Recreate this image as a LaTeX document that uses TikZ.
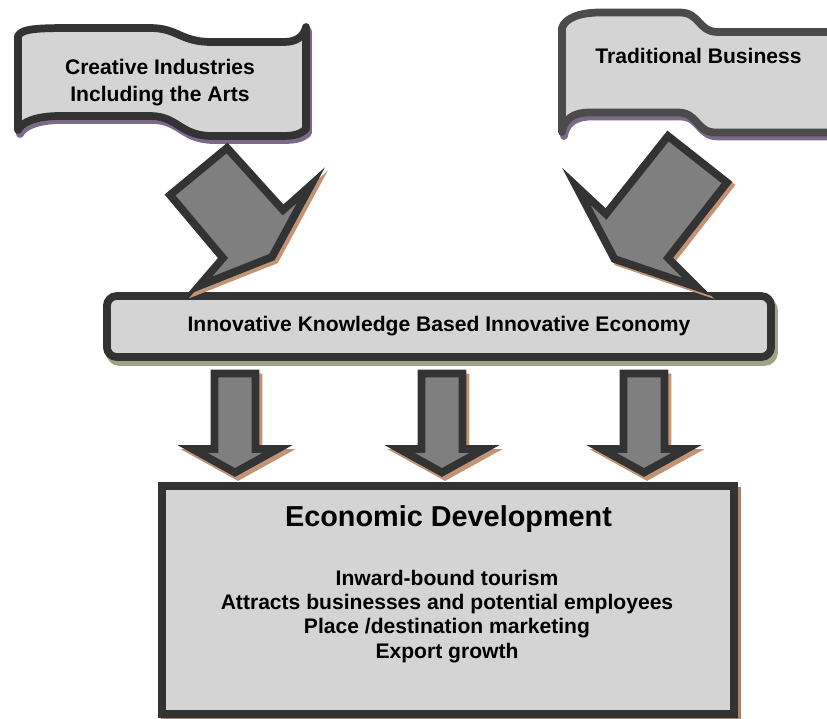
\documentclass[tikz,border=0pt]{standalone}
\usepackage{fontspec}
\setmainfont{Liberation Sans}
\usetikzlibrary{shadows}

\definecolor{lightbox}{HTML}{D4D4D4}
\definecolor{arrowgray}{HTML}{7F7F7F}
\definecolor{edgedark}{HTML}{333333}
\definecolor{edgemid}{HTML}{4B4B4B}
\definecolor{flagshade}{HTML}{7B6A8C}
\definecolor{arrowshade}{HTML}{C39375}
\definecolor{oliveshade}{HTML}{9DA385}
\definecolor{boxshade}{HTML}{A58272}

\begin{document}
\begin{tikzpicture}[x=0.025cm,y=-0.025cm,
  every node/.style={font=\fontsize{15}{19}\selectfont\bfseries,align=center},
  flag/.style={fill=lightbox,line width=5.5pt,line join=round},
  flagshadow/.style={draw=flagshade,line width=5.5pt,line join=round},
  blockarrow/.style={fill=arrowgray,draw=edgedark,line width=5.5pt,line join=miter},
  arrowshadow/.style={fill=arrowshade,draw=arrowshade,line width=5.5pt,line join=miter}]

\useasboundingbox (0,0) rectangle (827,718);
\clip (0,0) rectangle (827,718);

\def\leftflag{(18,36) .. controls (22,28) and (40,28) .. (80,28) -- (150,28)
  .. controls (178,28) and (180,42) .. (212,42) -- (284,42)
  .. controls (297,42) and (304,36) .. (306,27) -- (306,129)
  .. controls (300,135) and (292,136) .. (282,136) -- (212,136)
  .. controls (180,136) and (178,116) .. (150,116) -- (60,116)
  .. controls (36,116) and (22,122) .. (18,130) -- cycle}
\def\rightflag{(562,28) .. controls (565,18) and (580,12.5) .. (600,12.5) -- (680,12.5)
  .. controls (700,12.5) and (698,32) .. (718,32) -- (840,32) -- (840,132.5)
  -- (716,132.5) .. controls (696,132.5) and (698,112.5) .. (678,112.5) -- (590,112.5)
  .. controls (572,112.5) and (564,120) .. (562,132) -- cycle}

% banners on top
\draw[flagshadow,shift={(2,4)}] \leftflag;
\draw[flag,draw=edgedark] \leftflag;
\draw[flagshadow,shift={(2,4)}] \rightflag;
\draw[flag,draw=edgemid] \rightflag;

\node (creative) at (160,82.8) {Creative Industries\\Including the Arts};
\node[anchor=base] (traditional) at (698.5,63.3) {Traditional Business};

% middle bar and lower box
\node[draw=edgedark,fill=lightbox,line width=5.5pt,rounded corners=7pt,inner sep=0pt,
  minimum width=16.6cm,minimum height=1.525cm,
  drop shadow={shadow xshift=0.075cm,shadow yshift=-0.125cm,opacity=1,
    fill=oliveshade,draw=oliveshade,line width=5.5pt}]
  (kbe) at (439,326.5) {Innovative Knowledge Based Innovative Economy};

\node[draw=edgedark,fill=lightbox,line width=5.5pt,inner sep=0pt,
  minimum width=14.3cm,minimum height=5.6875cm,
  drop shadow={shadow xshift=0.075cm,shadow yshift=-0.125cm,opacity=1,
    fill=boxshade,draw=boxshade,line width=5.5pt}]
  (dev) at (448,600) {};

\node[anchor=base,font=\fontsize{20.5}{24}\selectfont\bfseries] (title) at (448.5,526.7) {Economic Development};
\node[font=\fontsize{15}{17.3}\selectfont\bfseries] (effects) at (447,616.2)
  {Inward-bound tourism\\Attracts businesses and potential employees\\Place /destination marketing\\Export growth};

% slanted arrows
\def\leftslant{(227,148) -- (170,195) -- (223,258) -- (199,286) -- (272,257) -- (311,185) -- (283,210) -- cycle}
\def\rightslant{(668,136) -- (727,182.5) -- (668,258) -- (697,287) -- (614.5,259) -- (576,186) -- (606,214) -- cycle}
\draw[arrowshadow,shift={(3,3)}] \leftslant;
\draw[blockarrow] \leftslant;
\draw[arrowshadow,shift={(3,3)}] \rightslant;
\draw[blockarrow] \rightslant;

% down arrows
\foreach \c in {235,442,644}{
  \draw[arrowshadow,shift={(3,4)}] (\c-20.5,373.5) -- (\c+20.5,373.5) -- (\c+20.5,449) -- (\c+42.5,449)
    -- (\c,472.5) -- (\c-42.5,449) -- (\c-20.5,449) -- cycle;
  \draw[blockarrow] (\c-20.5,373.5) -- (\c+20.5,373.5) -- (\c+20.5,449) -- (\c+42.5,449)
    -- (\c,472.5) -- (\c-42.5,449) -- (\c-20.5,449) -- cycle;
}
\end{tikzpicture}
\end{document}
